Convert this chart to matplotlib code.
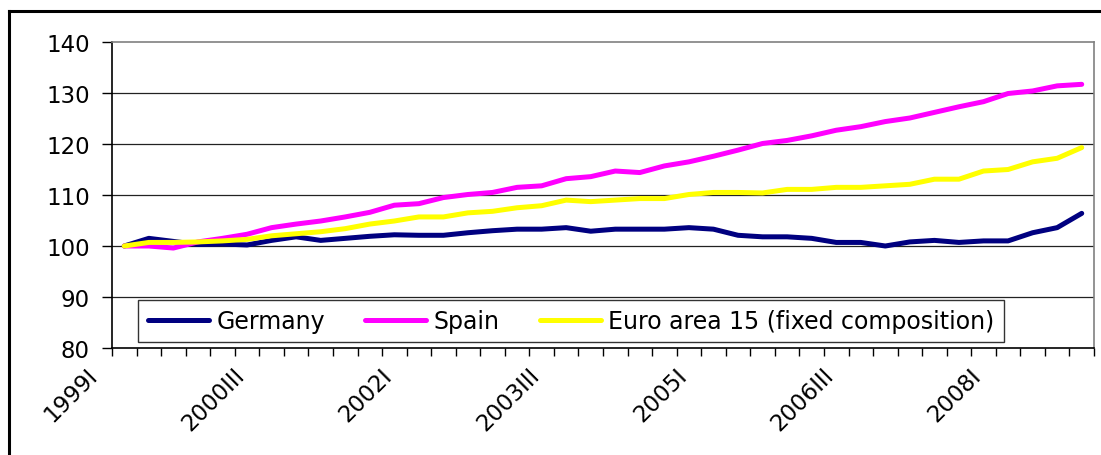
import matplotlib
matplotlib.use("Agg")
import matplotlib.pyplot as plt
import matplotlib.transforms as mtransforms
from matplotlib.lines import Line2D

plt.rcParams['font.family'] = ['DejaVu Sans']

# quarterly categories 1999I .. 2008IV
years = list(range(1999, 2009))
roman = ['I', 'II', 'III', 'IV']
quarters = [f"{y}{q}" for y in years for q in roman]

germany = [100.0, 101.5, 100.9, 100.3, 100.4, 100.2, 101.1, 101.8, 101.1, 101.5,
           101.9, 102.2, 102.1, 102.1, 102.6, 103.0, 103.3, 103.3, 103.6, 102.9,
           103.3, 103.3, 103.3, 103.6, 103.3, 102.1, 101.8, 101.8, 101.5, 100.7,
           100.7, 100.0, 100.8, 101.1, 100.7, 101.0, 101.0, 102.6, 103.6, 106.4]
spain = [100.0, 100.0, 99.6, 100.8, 101.5, 102.3, 103.6, 104.3, 104.9, 105.7,
         106.6, 108.0, 108.3, 109.5, 110.1, 110.5, 111.5, 111.8, 113.2, 113.6,
         114.7, 114.4, 115.7, 116.5, 117.6, 118.8, 120.1, 120.7, 121.6, 122.7,
         123.4, 124.4, 125.1, 126.2, 127.3, 128.3, 129.9, 130.4, 131.4, 131.7]
euro15 = [100.0, 100.7, 100.7, 100.8, 101.0, 101.3, 102.0, 102.4, 102.8, 103.4,
          104.3, 104.9, 105.7, 105.7, 106.5, 106.8, 107.5, 107.9, 109.0, 108.7,
          109.0, 109.3, 109.3, 110.1, 110.5, 110.5, 110.4, 111.1, 111.1, 111.5,
          111.5, 111.8, 112.1, 113.1, 113.1, 114.7, 115.0, 116.5, 117.2, 119.3]

series_names = ['Germany', 'Spain', 'Euro area 15 (fixed composition)']
series_colors = ['#000080', '#FF00FF', '#FFFF00']
yticks = [80, 90, 100, 110, 120, 130, 140]

W, H = 1101, 456
fig = plt.figure(figsize=(W / 100, H / 100), dpi=100)
ax = fig.add_axes([112 / W, 1 - 349 / H, (1094 - 112) / W, (349 - 43) / H])

x = list(range(len(quarters)))
for vals, name, col in zip([germany, spain, euro15], series_names, series_colors):
    ax.plot(x, vals, color=col, lw=3.6, label=name,
            solid_capstyle='round', solid_joinstyle='round', zorder=3)

ax.set_xlim(-0.5, len(quarters) - 0.5)
ax.set_ylim(80, 140)
ax.set_yticks(yticks)
for v in yticks[1:-1]:
    ax.axhline(v, color='#222222', lw=0.9, zorder=1)

# category ticks between quarters, labels every 6th quarter
ax.set_xticks([i - 0.5 for i in range(len(quarters) + 1)], minor=False)
ax.set_xticklabels([])
ax.tick_params(axis='x', direction='out', length=5.5, width=1, color='black')
ax.tick_params(axis='y', direction='out', length=7, width=1, pad=9,
               labelsize=16.5, color='black')

offset = mtransforms.ScaledTranslation(-0.22, -0.15, fig.dpi_scale_trans)
for i in range(0, len(quarters), 6):
    ax.text(i, 80, quarters[i], rotation=45, ha='right', va='top',
            fontsize=16.5, transform=ax.transData + offset)

for s in ['left', 'bottom']:
    ax.spines[s].set_color('black')
    ax.spines[s].set_linewidth(1.2)
for s in ['top', 'right']:
    ax.spines[s].set_color('#808080')
    ax.spines[s].set_linewidth(1.2)

leg = ax.legend(loc='center', bbox_to_anchor=((140 + 1002) / 2 / W, 1 - 322 / H),
                bbox_transform=fig.transFigure, ncol=3, fontsize=17,
                frameon=True, fancybox=False, edgecolor='black',
                handlelength=2.6, handletextpad=0.3, columnspacing=1.7,
                borderpad=0.4, borderaxespad=0)
leg.get_frame().set_linewidth(1.0)
leg.set_zorder(5)

# outer chart frame
fig.add_artist(Line2D([9 / W, 9 / W], [0, 1 - 12 / H], color='black', lw=2.2))
fig.add_artist(Line2D([9 / W, 1], [1 - 12 / H, 1 - 12 / H], color='black', lw=2.2))

fig.savefig('out.png', dpi=100)
